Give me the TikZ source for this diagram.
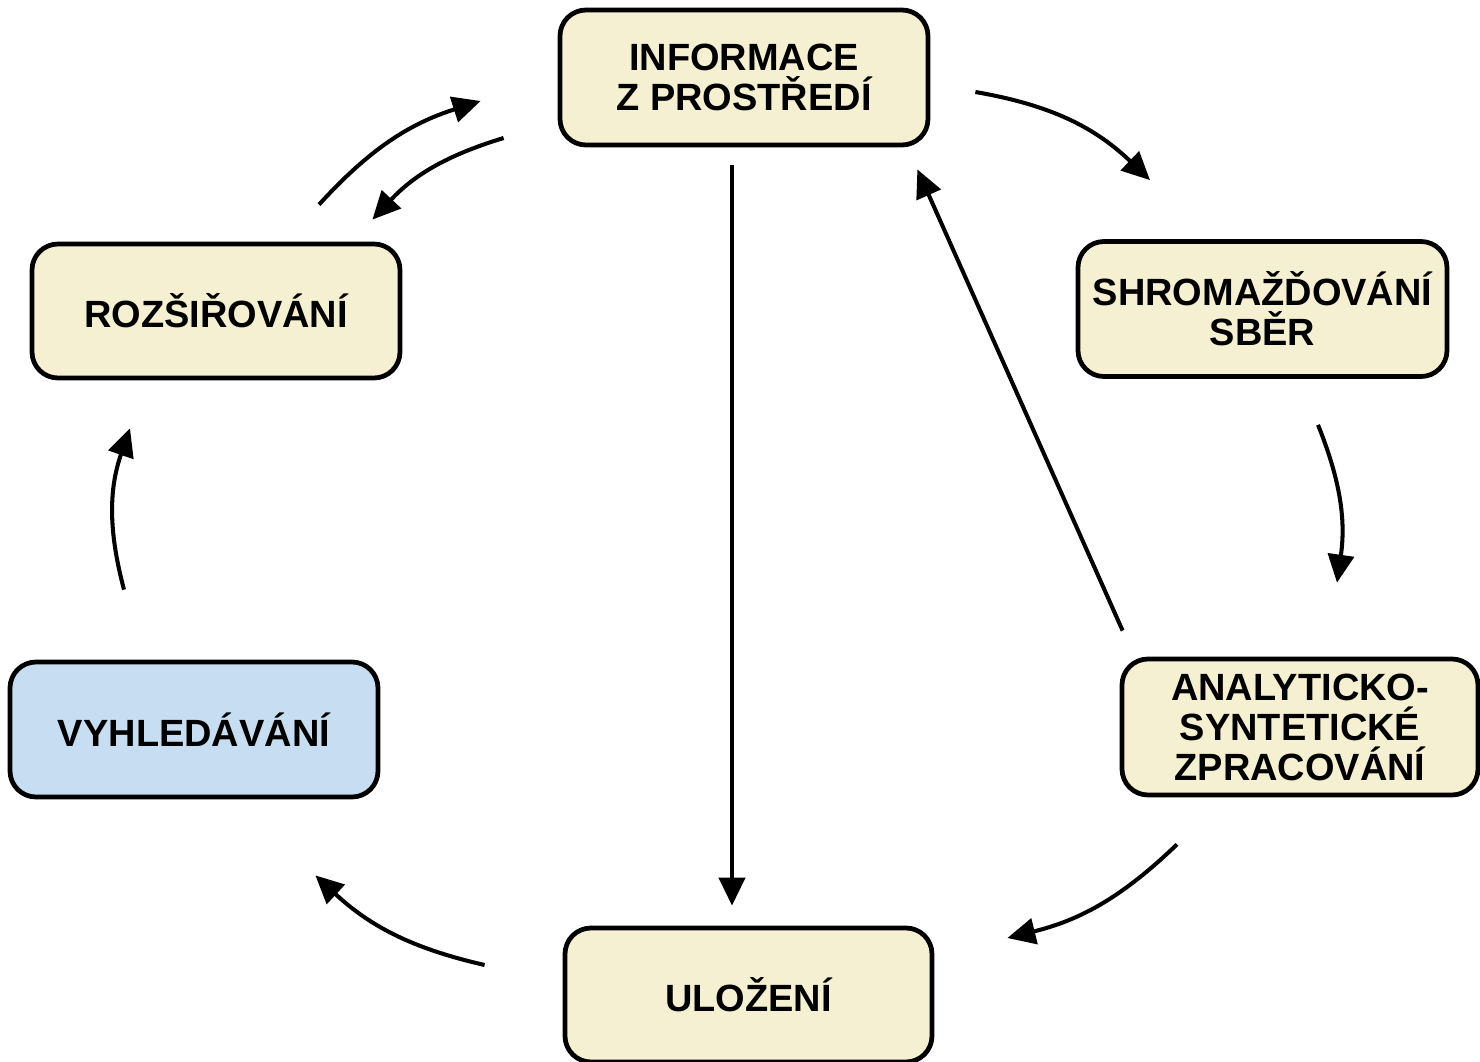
\documentclass[tikz,border=0pt]{standalone}
\usepackage{fontspec}
\setmainfont{Liberation Sans}
\usepackage{xcolor}
\usetikzlibrary{arrows.meta,positioning}

\definecolor{stepcream}{HTML}{F6F0D2}
\definecolor{stepblue}{HTML}{C7DDF2}

\begin{document}
\begin{tikzpicture}[
    phase/.style={rectangle, rounded corners=0.26cm, draw, line width=1.35pt, fill=stepcream,
      minimum width=3.68cm, minimum height=1.35cm, align=center,
      font=\fontsize{10.8pt}{11.4pt}\selectfont\bfseries},
    arrow/.style={-{Triangle[length=2.8mm, width=2.6mm]}, line width=1.15pt},
]
\useasboundingbox (0,0) rectangle (14.8,10.61);

% Cycle boxes
\node[phase] (info) at (7.44,9.835) {INFORMACE\\Z PROSTŘEDÍ};
\node[phase, minimum width=3.69cm] (shrom) at (12.625,7.52) {SHROMAŽĎOVÁNÍ\\SBĚR};
\node[phase, minimum width=3.56cm, minimum height=1.36cm] (anal) at (13.0,3.34) {ANALYTICKO-\\SYNTETICKÉ\\ZPRACOVÁNÍ};
\node[phase, minimum width=3.67cm, minimum height=1.34cm] (uloz) at (7.485,0.66) {ULOŽENÍ};
\node[phase, fill=stepblue] (vyhl) at (1.94,3.315) {VYHLEDÁVÁNÍ};
\node[phase, minimum height=1.34cm] (roz) at (2.16,7.5) {ROZŠIŘOVÁNÍ};

% Outer cycle
\draw[arrow] ([shift={(0.45,-0.145)}]info.east) to[bend left=17] ([shift={(-1.125,0.59)}]shrom.north);
\draw[arrow] ([shift={(0.555,-0.46)}]shrom.south) to[bend left=15] ([shift={(0.37,0.74)}]anal.north);
\draw[arrow] ([shift={(-1.23,-0.47)}]anal.south) to[bend left=15] ([shift={(0.73,0.57)}]uloz.east);
\draw[arrow] ([shift={(-0.78,0.3)}]uloz.west) to[bend left=15] ([shift={(-0.65,-0.76)}]vyhl.south east);
\draw[arrow] ([shift={(-0.7,0.7)}]vyhl.north) to[bend left=17] ([shift={(-0.86,-0.48)}]roz.south);
\draw[arrow] ([shift={(1.03,0.37)}]roz.north) to[bend left=15] ([shift={(-0.77,-0.235)}]info.west);
\draw[arrow] ([shift={(-0.54,-0.605)}]info.west) to[bend right=15] ([shift={(-0.3,0.22)}]roz.north east);

% Straight links
\draw[arrow] ([shift={(-0.12,-0.18)}]info.south) -- ([shift={(-0.165,0.2)}]uloz.north);
\draw[arrow] ([shift={(0.03,0.26)}]anal.north west) -- ([shift={(-0.13,-0.22)}]info.south east);
\end{tikzpicture}
\end{document}
